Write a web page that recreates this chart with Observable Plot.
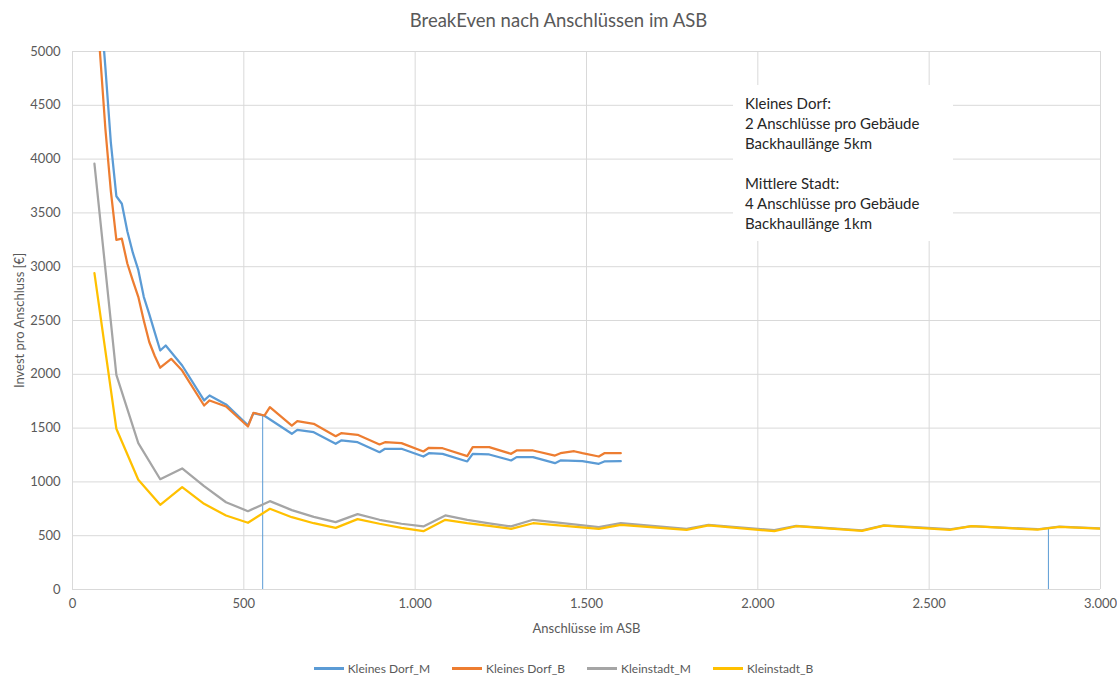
<!DOCTYPE html>
<html>
<head>
<meta charset="utf-8">
<script src="https://cdn.jsdelivr.net/npm/d3@7"></script>
<script src="https://cdn.jsdelivr.net/npm/@observablehq/plot@0.6"></script>
<style>
  body { margin: 0; background: #fff; }
  #wrap { position: relative; width: 1117px; height: 677px; font-family: Lato, "Open Sans", sans-serif; overflow: hidden; }
  #title { height: 40px; line-height: 40px; text-align: center; font-size: 18.5px; color: #595959; }
  #legend { height: 37px; box-sizing: border-box; padding-top: 20px; line-height: 16px; display: flex; justify-content: center; font-size: 12px; color: #595959; padding-left: 10px; }
  .item { display: flex; align-items: center; margin: 0 11px; }
  .sw { display: inline-block; width: 30px; height: 3px; margin-right: 4px; }
  #note { position: absolute; left: 733px; top: 85px; width: 208px; height: 148px; background: #fff; padding: 8px 0 0 12px; font-size: 15px; line-height: 20px; color: #262626; }
</style>
</head>
<body>
<div id="wrap">
  <div id="title">BreakEven nach Anschlüssen im ASB</div>
  <div id="chart"></div>
  <div id="legend"></div>
  <div id="note">Kleines Dorf:<br>2 Anschlüsse pro Gebäude<br>Backhaullänge 5km<br><br>Mittlere Stadt:<br>4 Anschlüsse pro Gebäude<br>Backhaullänge 1km</div>
</div>
<script>
// ---- data ----
const seriesNames = ["Kleines Dorf_M", "Kleines Dorf_B", "Kleinstadt_M", "Kleinstadt_B"];
const seriesColors = ["#5B9BD5", "#ED7D31", "#A5A5A5", "#FFC000"];

const dorfMx = [64,80,96,112,128,144,160,176,192,208,224,240,256,272,320,384,400,448,512,528,560,640,656,704,768,784,832,896,912,960,1024,1040,1080,1152,1168,1216,1280,1296,1344,1408,1424,1488,1536,1552,1600];
const dorfM  = [6500,5500,4850,4150,3655,3585,3330,3130,2970,2720,2560,2390,2221,2268,2082,1757,1803,1720,1525,1639,1615,1447,1484,1462,1354,1385,1369,1276,1308,1308,1236,1267,1261,1190,1261,1255,1199,1230,1230,1174,1199,1193,1168,1190,1193];

const dorfBx = [64,80,96,112,128,144,160,176,192,208,224,240,256,288,320,384,400,448,512,528,560,576,640,656,704,768,784,832,896,912,960,1024,1040,1080,1152,1168,1216,1280,1296,1344,1408,1424,1464,1488,1536,1552,1600];
const dorfB  = [6000,5000,4280,3700,3250,3260,3030,2870,2720,2500,2300,2170,2061,2144,2035,1710,1757,1701,1515,1642,1617,1694,1524,1564,1540,1425,1453,1438,1348,1369,1360,1283,1317,1313,1239,1323,1323,1261,1292,1292,1245,1267,1285,1267,1236,1267,1267];

const stadtX = [64,128,192,256,320,384,448,512,576,640,704,768,832,896,960,1024,1088,1152,1216,1280,1344,1536,1600,1792,1856,2048,2112,2304,2368,2560,2624,2816,2880,3000];
const stadtM = [3957,1995,1360,1025,1125,960,811,728,821,738,675,626,700,648,611,586,688,648,615,586,648,579,616,564,600,552,592,550,596,560,590,560,585,568];
const stadtB = [2940,1494,1020,787,951,796,688,620,750,672,616,573,654,611,573,542,648,616,592,564,616,564,601,555,595,542,588,544,594,555,588,556,583,566];

const dropX   = [555, 2848];
const dropTop = [1620, 576];

const xTicks = [0, 500, 1000, 1500, 2000, 2500, 3000];
const yTicks = [0, 500, 1000, 1500, 2000, 2500, 3000, 3500, 4000, 4500, 5000];

// ---- build tables ----
const toRows = (xs, ys, name) => xs.map((x, i) => ({x, y: ys[i], series: name}));
const seriesData = [
  toRows(dorfMx, dorfM, seriesNames[0]),
  toRows(dorfBx, dorfB, seriesNames[1]),
  toRows(stadtX, stadtM, seriesNames[2]),
  toRows(stadtX, stadtB, seriesNames[3])
];
const drops = dropX.map((x, i) => ({x, y: dropTop[i]}));

const chart = Plot.plot({
  width: 1117,
  height: 600,
  marginTop: 11,
  marginBottom: 51,
  marginLeft: 72,
  marginRight: 17,
  style: {fontFamily: "Lato, 'Open Sans', sans-serif", fontSize: "13px", color: "#595959", background: "#fff", overflow: "visible"},
  x: {
    domain: [0, 3000], ticks: xTicks, tickSize: 0, tickPadding: 9,
    tickFormat: d => d3.format(",")(d).replace(/,/g, "."),
    label: "Anschlüsse im ASB", labelAnchor: "center", labelOffset: 43, labelArrow: "none"
  },
  y: {
    domain: [0, 5000], ticks: yTicks, tickSize: 0, tickPadding: 12,
    tickFormat: d => `${d}`,
    label: "Invest pro Anschluss [€]", labelAnchor: "center", labelOffset: 58, labelArrow: "none"
  },
  marks: [
    Plot.gridY(yTicks, {stroke: "#d9d9d9", strokeOpacity: 1, strokeWidth: 1}),
    Plot.gridX(xTicks, {stroke: "#d9d9d9", strokeOpacity: 1, strokeWidth: 1}),
    Plot.ruleX(drops, {x: "x", y1: 0, y2: "y", stroke: seriesColors[0], strokeWidth: 1}),
    ...seriesData.map((rows, i) =>
      Plot.line(rows, {x: "x", y: "y", stroke: seriesColors[i], strokeWidth: 2.25, clip: true, strokeLinejoin: "round"})
    )
  ]
});
document.getElementById("chart").appendChild(chart);

// legend
const legend = document.getElementById("legend");
seriesNames.forEach((name, i) => {
  const item = document.createElement("span");
  item.className = "item";
  const sw = document.createElement("span");
  sw.className = "sw";
  sw.style.background = seriesColors[i];
  item.appendChild(sw);
  item.appendChild(document.createTextNode(name));
  legend.appendChild(item);
});
</script>
</body>
</html>
